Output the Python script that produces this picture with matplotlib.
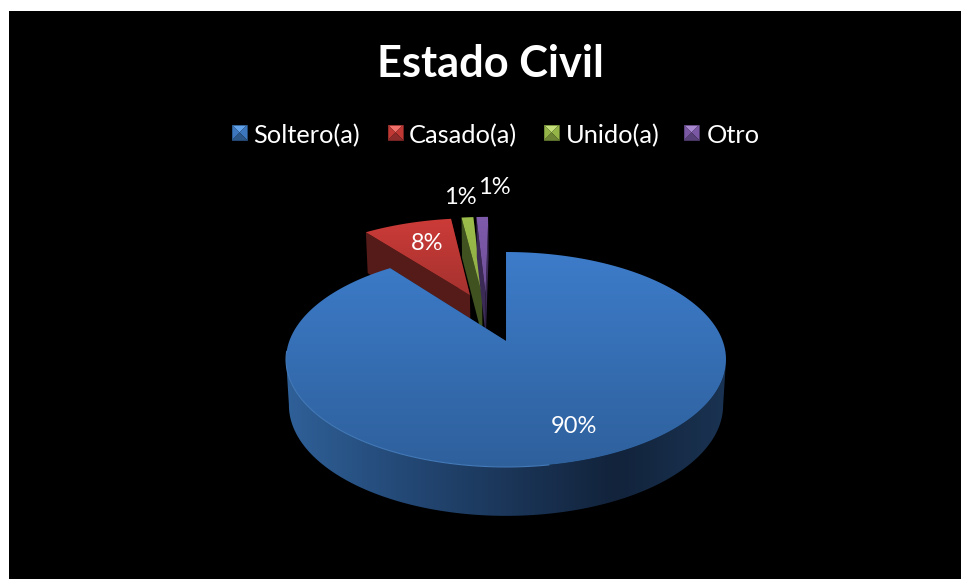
import matplotlib
matplotlib.use('Agg')
import matplotlib.pyplot as plt
import numpy as np
from matplotlib.colors import LinearSegmentedColormap
from matplotlib.patches import Polygon

categories = ['Soltero(a)', 'Casado(a)', 'Unido(a)', 'Otro']
values = [89.6, 8.2, 1.1, 1.1]
value_labels = ['90%', '8%', '1%', '1%']

plt.rcParams['font.family'] = ['Lato', 'DejaVu Sans']

# colores de cada sector: cara superior (arriba, abajo), pared radial
top_colors = [('#3d7cca', '#2e609c'), ('#cc3b38', '#a5322f'), ('#9cbd4b', '#8eab45'), ('#7f5bab', '#6f4f98')]
wall_colors = ['#1d3a60', '#551b18', '#3f5220', '#3b2a55']
rim_colors = ['#2f6098', '#244a78', '#1b3659', '#12233b', '#1a3352']
key_colors = [('#62a2ea', '#3c76bc', '#2a5688'), ('#f0706c', '#bf3834', '#8c2b29'),
              ('#c5e07a', '#94b447', '#6c8434'), ('#a888d0', '#7a58a4', '#584078')]
key_x = [232, 388, 544, 684]
text_x = [253.5, 409, 566, 707]
label_xy = [(574, 426.5), (427, 244), (460, 197), (494, 187)]
shift_x = [0, 0, -0.012, -0.012]

# proyeccion en perspectiva del plano de la torta a pixeles
CX, CY = 506, 341
SX, SY = 216.7, 104.3
K = 0.172
DEPTH = 45
EXPLODE = 0.255
BLUE_MID = 161.3


def project(x, y, drop=False):
    x = np.asarray(x, dtype=float)
    y = np.asarray(y, dtype=float)
    w = 1 + K * y
    px = CX + SX * x / w
    py = CY - SY * y / w
    if drop:
        px = CX + (px - CX) * 0.987
        py = py + DEPTH / (1 + 0.08 * y)
    return px, py


def fill_gradient(ax, points, colors, horizontal=False, zorder=1):
    points = np.asarray(points)
    patch = Polygon(points, closed=True, facecolor='none', edgecolor='none', zorder=zorder)
    ax.add_patch(patch)
    cmap = LinearSegmentedColormap.from_list('g', colors)
    grad = np.linspace(0, 1, 256)
    grad = grad.reshape(1, -1) if horizontal else grad.reshape(-1, 1)
    x0, x1 = points[:, 0].min(), points[:, 0].max()
    y0, y1 = points[:, 1].min(), points[:, 1].max()
    im = ax.imshow(grad, cmap=cmap, extent=(x0, x1, y1, y0), aspect='auto', zorder=zorder, interpolation='bilinear')
    im.set_clip_path(patch)


def draw_slice(ax, i, start, end, zorder):
    mid = np.radians((start + end) / 2)
    # el origen del mundo es el vertice del sector azul
    ox = EXPLODE * (np.sin(mid) - np.sin(np.radians(BLUE_MID))) + shift_x[i]
    oy = EXPLODE * (np.cos(mid) - np.cos(np.radians(BLUE_MID)))
    ang = np.radians(np.linspace(start, end, 400))
    arc_x, arc_y = ox + np.sin(ang), oy + np.cos(ang)

    ax_top = np.column_stack(project(arc_x, arc_y))
    ax_low = np.column_stack(project(arc_x, arc_y, drop=True))
    apex = np.array(project(ox, oy))
    apex_low = np.array(project(ox, oy, drop=True))

    # paredes radiales
    wall1 = [apex, apex_low, ax_low[-1], ax_top[-1]]
    wall2 = [apex, apex_low, ax_low[0], ax_top[0]]
    ax.add_patch(Polygon(wall1, closed=True, facecolor=wall_colors[i], edgecolor='none', zorder=zorder))
    ax.add_patch(Polygon(wall2, closed=True, facecolor=wall_colors[i], edgecolor='none', zorder=zorder))

    # borde exterior, solo se ve en el sector azul: de extremo derecho a extremo izquierdo
    if i == 0:
        right = np.argmax(ax_top[:, 0])
        left = np.argmin(ax_top[:, 0])
        rim = np.vstack([ax_top[right:left + 1], ax_low[right:left + 1][::-1]])
        fill_gradient(ax, rim, rim_colors, horizontal=True, zorder=zorder + 0.1)

    # cara superior
    fill_gradient(ax, np.vstack([[apex], ax_top]), top_colors[i], zorder=zorder + 0.2)
    if i == 0:
        front = (ang > np.radians(170)) & (ang < np.radians(265))
        ax.plot(ax_top[front, 0], ax_top[front, 1], color='#437ab9', lw=0.8, zorder=zorder + 0.3)


def draw_key(ax, x, y, size, colors):
    c = (x + size / 2, y + size / 2)
    corners = [(x, y), (x + size, y), (x + size, y + size), (x, y + size)]
    shades = [colors[0], colors[1], colors[2], colors[1]]
    for k in range(4):
        ax.add_patch(Polygon([corners[k], corners[(k + 1) % 4], c], closed=True, facecolor=shades[k],
                             edgecolor='none', zorder=5))
    ax.add_patch(Polygon(corners, closed=True, facecolor='none', edgecolor=colors[2], lw=0.6, zorder=5))


fig = plt.figure(figsize=(9.62, 5.79), dpi=100, facecolor='white')
ax = fig.add_axes([0, 0, 1, 1])
ax.set_xlim(0, 962)
ax.set_ylim(579, 0)
ax.axis('off')
ax.add_patch(Polygon([(9, 11), (962, 11), (962, 579), (9, 579)], closed=True, facecolor='black', edgecolor='none', zorder=0))

edges = np.concatenate([[0], np.cumsum(values)]) * 360 / sum(values)
for i in [1, 2, 3, 0]:
    z = {1: 1, 2: 2, 3: 3, 0: 4}[i]
    draw_slice(ax, i, edges[i], edges[i + 1], z)

ax.set_xlim(0, 962)
ax.set_ylim(579, 0)

ax.text(490, 64, 'Estado Civil', color='white', fontsize=31.2, fontweight='bold', ha='center', va='center', zorder=6)
for name, kx, tx, colors in zip(categories, key_x, text_x, key_colors):
    draw_key(ax, kx, 125, 15, colors)
    ax.text(tx, 135.5, name, color='white', fontsize=18.3, ha='left', va='center', zorder=6)
for text, (lx, ly) in zip(value_labels, label_xy):
    ax.text(lx, ly, text, color='white', fontsize=17, ha='center', va='center', zorder=6)

fig.savefig('out.png', dpi=100, facecolor='white')
